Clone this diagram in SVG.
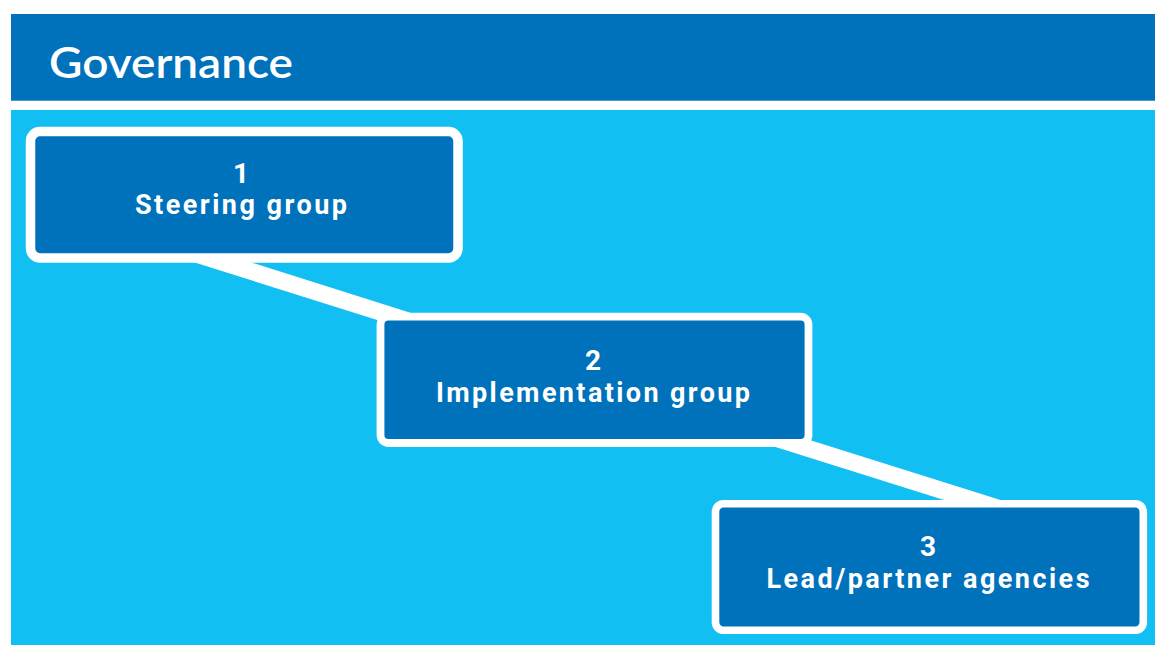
<svg xmlns="http://www.w3.org/2000/svg" width="1155" height="645" viewBox="0 0 1155 645">
<style>
.hdr{fill:#0072BB}
.panel{fill:#12BFF2}
.box{fill:#0072BB;stroke:#FFFFFF}
.conn{stroke:#FFFFFF;stroke-width:17;fill:none}
.num{font-family:Roboto,"Liberation Sans",sans-serif;font-weight:bold;font-size:28px;fill:#FFFFFF;text-anchor:middle}
.lbl{font-family:Roboto,"Liberation Sans",sans-serif;font-weight:bold;font-size:27px;fill:#FFFFFF;text-anchor:middle}
.title{font-family:Lato,"Open Sans",sans-serif;font-weight:600;font-size:42px;fill:#FFFFFF}
</style>
<rect width="1155" height="645" fill="#FFFFFF"/>
<rect class="hdr" x="11" y="14" width="1144" height="86.7"/>
<text class="title" x="49" y="77.5" textLength="244" lengthAdjust="spacingAndGlyphs">Governance</text>
<rect class="panel" x="11" y="110" width="1144" height="535"/>
<g id="connectors">
<line class="conn" x1="158" y1="242" x2="437" y2="330"/>
<line class="conn" x1="718" y1="420" x2="1036" y2="520"/>
</g>
<g id="node1">
<rect class="box" x="30.5" y="131.5" width="427.5" height="126.5" rx="9.5" stroke-width="9.5"/>
<text class="num" x="241" y="183.3">1</text>
<text class="lbl" x="241" y="214.3" textLength="212" lengthAdjust="spacing">Steering group</text>
</g>
<g id="node2">
<rect class="box" x="380.5" y="316.7" width="428" height="126.3" rx="8" stroke-width="7.8"/>
<text class="num" x="593" y="370">2</text>
<text class="lbl" x="593" y="401.5" textLength="314" lengthAdjust="spacing">Implementation group</text>
</g>
<g id="node3">
<rect class="box" x="715.5" y="503.7" width="427.8" height="126.6" rx="8" stroke-width="7.6"/>
<text class="num" x="928" y="556">3</text>
<text class="lbl" x="928" y="588.3" textLength="323" lengthAdjust="spacing">Lead/partner agencies</text>
</g>
</svg>
